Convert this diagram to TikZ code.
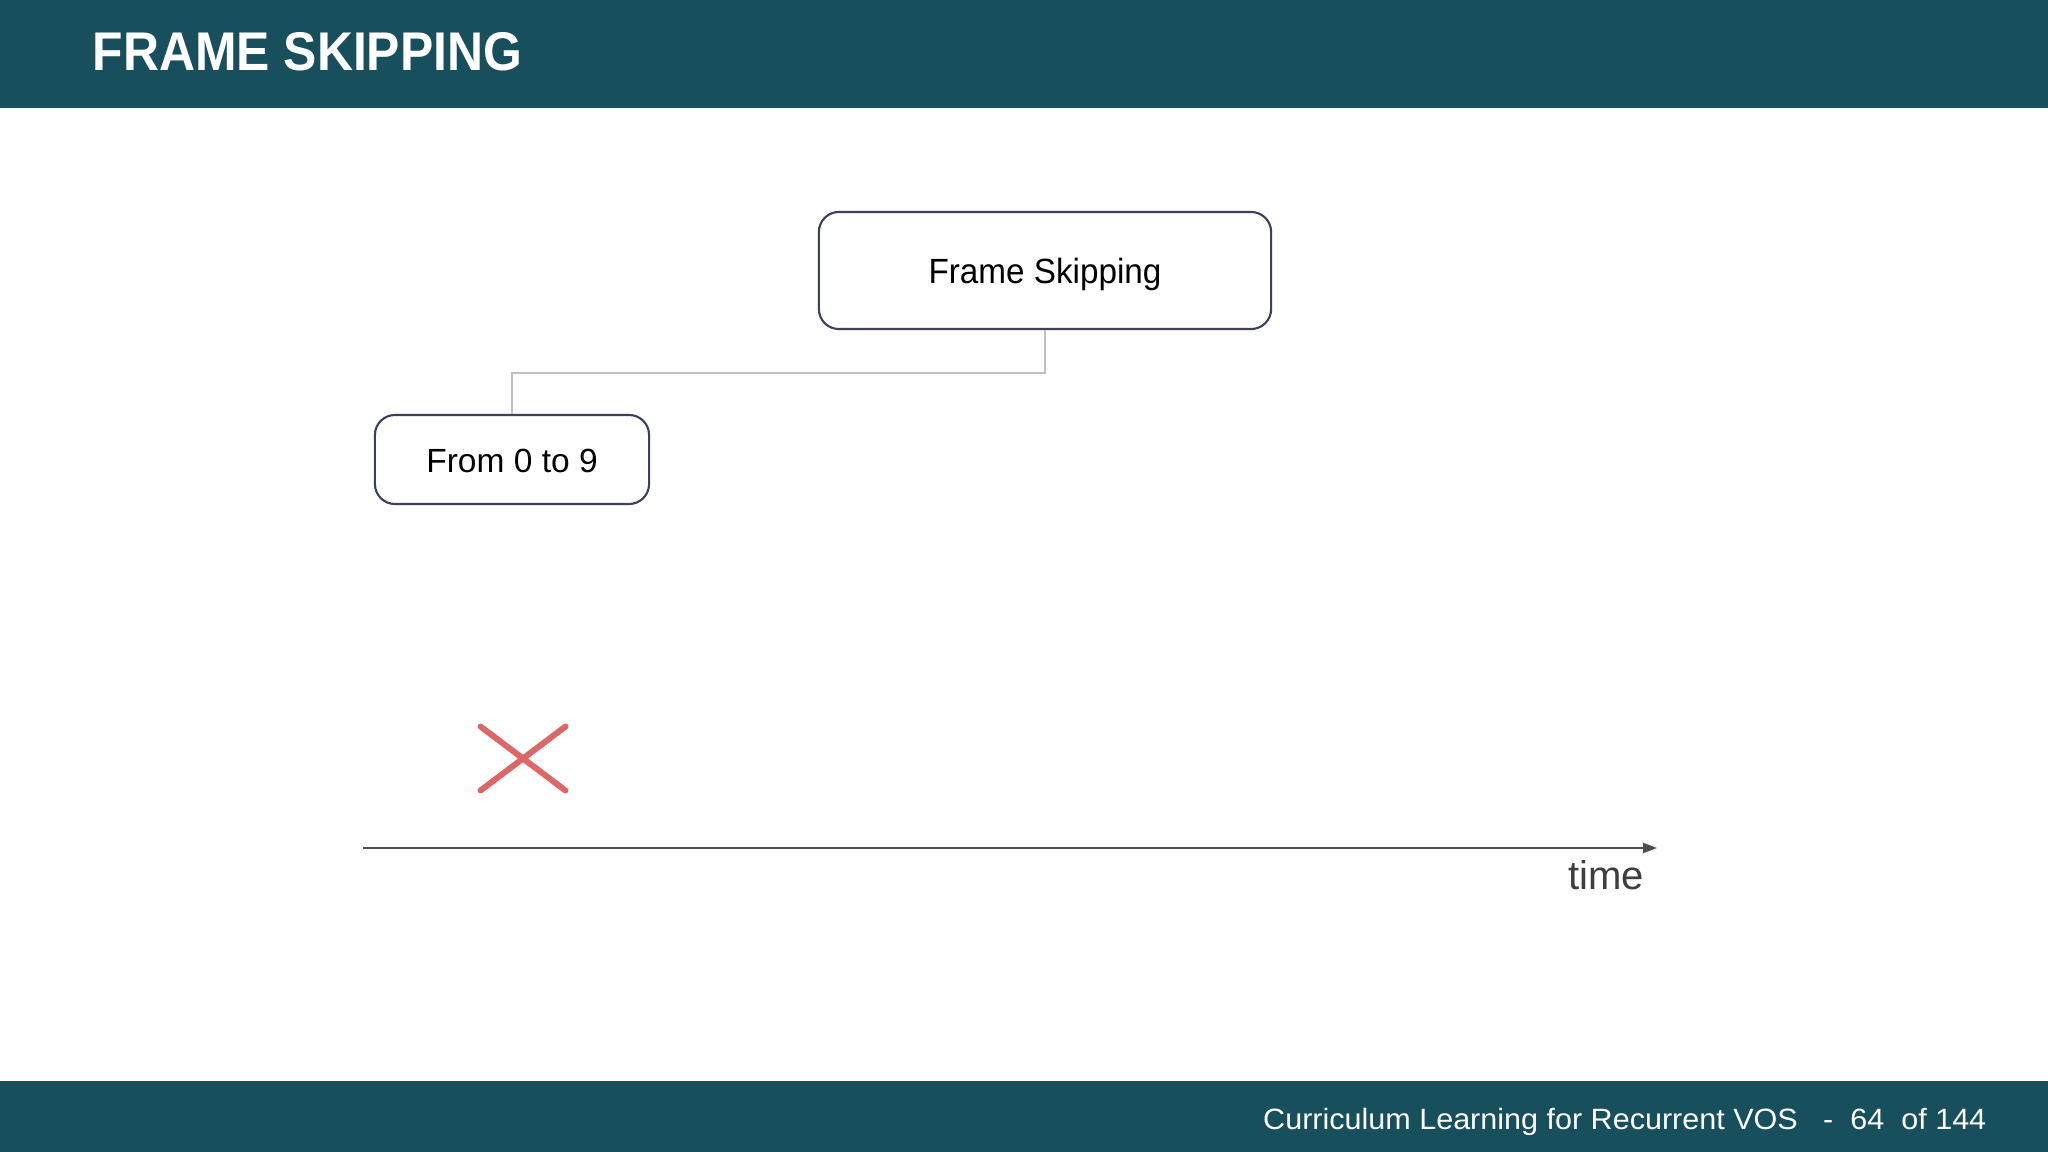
\documentclass[tikz,border=0pt]{standalone}
\usepackage{fontspec}
\setmainfont{Liberation Sans}
\usetikzlibrary{shapes,shapes.misc,arrows.meta,calc,positioning}
\definecolor{barteal}{RGB}{23,79,92}
\definecolor{boxline}{RGB}{60,64,88}
\definecolor{linkgray}{RGB}{192,192,192}
\definecolor{crossred}{RGB}{222,102,102}
\definecolor{axisgray}{RGB}{77,77,77}

\begin{document}
\begin{tikzpicture}
	[x=0.01cm,y=-0.01cm,
	box/.style={shape=rectangle,rounded corners=0.2cm,draw=boxline,line width=0.6pt,
		fill=white,text=black,text height=0.25cm,text depth=0pt,inner sep=0pt},
	link/.style={draw=linkgray,line width=0.6pt},
	bartext/.style={inner sep=0pt,text=white}]
	\useasboundingbox (0,0) rectangle (2048,1152);
	\fill[barteal] (0,0) rectangle (2048,108);
	\fill[barteal] (0,1081) rectangle (2048,1152);

	\node[bartext,anchor=base west,font=\fontsize{15.5}{18}\selectfont\bfseries] (title)
		at (92,71) {\scalebox{0.915}[1]{FRAME SKIPPING}};
	\node[bartext,anchor=base east,font=\fontsize{8.35}{10}\selectfont] (footer)
		at (1987,1129) {\scalebox{1.04}[1]{Curriculum Learning for Recurrent VOS\ \ \ -\ \ 64\ \ of 144}};

	\node[box,minimum width=4.52cm,minimum height=1.17cm,font=\fontsize{9.96}{12}\selectfont] (fs)
		at (1045,270.5) {\scalebox{0.95}[1]{Frame Skipping}};
	\node[box,minimum width=2.74cm,minimum height=0.89cm,font=\fontsize{9.53}{12}\selectfont] (fr)
		at (512,459.5) {From 0 to 9};
	\draw[link] (fs.south) -- ++(0,43) -| (fr.north);

	\node[cross out,draw=crossred,line width=1.7pt,line cap=round,inner sep=0pt,
		minimum width=0.79cm,minimum height=0.58cm] (skip) at (523,758.5) {};

	\coordinate (t0) at (363,848);
	\coordinate (t1) at (1657,848);
	\draw[axisgray,line width=0.6pt,-{Triangle[length=0.14cm,width=0.1cm]}] (t0) -- (t1);
	\node[inner sep=0pt,anchor=base,text=axisgray!80!black,font=\fontsize{11.4}{13}\selectfont] (time)
		at (1606,889) {time};
\end{tikzpicture}
\end{document}
